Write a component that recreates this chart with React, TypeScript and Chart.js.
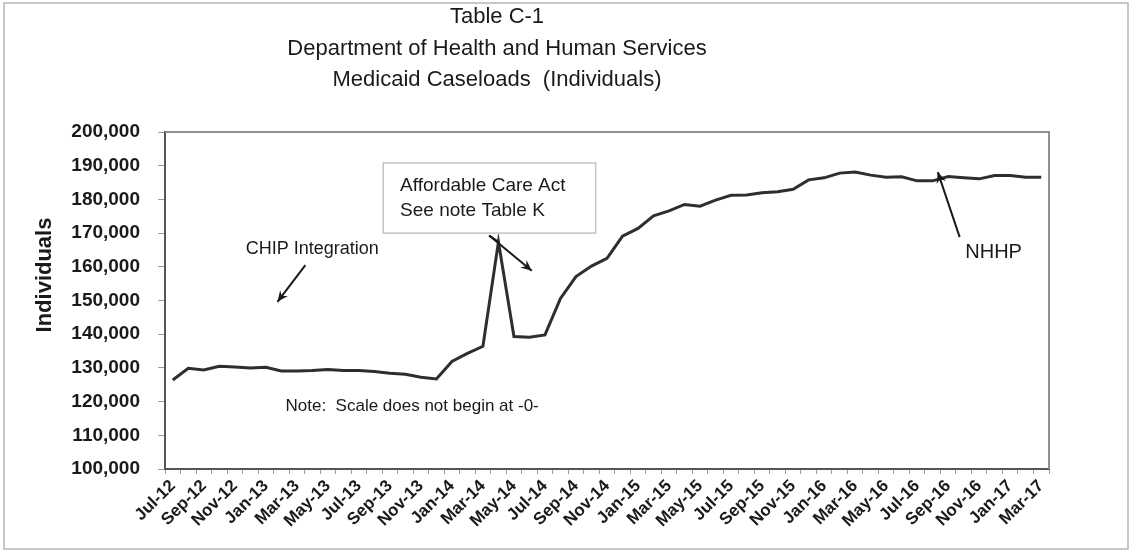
import React, { useEffect, useRef } from "react";
import { Chart, registerables } from "chart.js";

Chart.register(...registerables);

// ---------- data ----------
const months = [
  "Jul-12", "Aug-12", "Sep-12", "Oct-12", "Nov-12", "Dec-12",
  "Jan-13", "Feb-13", "Mar-13", "Apr-13", "May-13", "Jun-13",
  "Jul-13", "Aug-13", "Sep-13", "Oct-13", "Nov-13", "Dec-13",
  "Jan-14", "Feb-14", "Mar-14", "Apr-14", "May-14", "Jun-14",
  "Jul-14", "Aug-14", "Sep-14", "Oct-14", "Nov-14", "Dec-14",
  "Jan-15", "Feb-15", "Mar-15", "Apr-15", "May-15", "Jun-15",
  "Jul-15", "Aug-15", "Sep-15", "Oct-15", "Nov-15", "Dec-15",
  "Jan-16", "Feb-16", "Mar-16", "Apr-16", "May-16", "Jun-16",
  "Jul-16", "Aug-16", "Sep-16", "Oct-16", "Nov-16", "Dec-16",
  "Jan-17", "Feb-17", "Mar-17",
];

const caseloads = [
  126400, 129900, 129400, 130500, 130300, 130000,
  130200, 129100, 129100, 129200, 129500, 129200,
  129200, 128900, 128400, 128100, 127200, 126700,
  131900, 134300, 136400, 167400, 139300, 139100,
  139800, 150600, 157100, 160200, 162500, 169100,
  171400, 175100, 176600, 178500, 178000, 179800,
  181200, 181300, 182000, 182300, 183000, 185800,
  186400, 187800, 188100, 187200, 186600, 186700,
  185500, 185500, 186800, 186400, 186100, 187100,
  187100, 186600, 186600,
];

const yMin = 100000;
const yMax = 200000;
const yStep = 10000;

const titleLines = [
  "Table C-1",
  "Department of Health and Human Services",
  "Medicaid Caseloads  (Individuals)",
];
const yAxisTitle = "Individuals";

// annotation texts anchored in data space (category index, value)
const chipText = "CHIP Integration";
const acaLines = ["Affordable Care Act", "See note Table K"];
const nhhpText = "NHHP";
const noteText = "Note:  Scale does not begin at -0-";

const FONT = "'Liberation Sans', Arial, Helvetica, sans-serif";

function arrow(ctx: CanvasRenderingContext2D, x1: number, y1: number, x2: number, y2: number) {
  const ang = Math.atan2(y2 - y1, x2 - x1);
  ctx.beginPath();
  ctx.moveTo(x1, y1);
  ctx.lineTo(x2, y2);
  ctx.stroke();
  const L = 12;
  const w = 0.42;
  ctx.beginPath();
  ctx.moveTo(x2, y2);
  ctx.lineTo(x2 - L * Math.cos(ang - w), y2 - L * Math.sin(ang - w));
  ctx.lineTo(x2 - L * 0.6 * Math.cos(ang), y2 - L * 0.6 * Math.sin(ang));
  ctx.lineTo(x2 - L * Math.cos(ang + w), y2 - L * Math.sin(ang + w));
  ctx.closePath();
  ctx.fill();
}

const decorPlugin = {
  id: "decor",
  beforeDraw(chart: any) {
    const ctx = chart.ctx as CanvasRenderingContext2D;
    ctx.save();
    ctx.fillStyle = "#ffffff";
    ctx.fillRect(0, 0, chart.width, chart.height);
    ctx.strokeStyle = "#b5b5b5";
    ctx.lineWidth = 1.5;
    ctx.strokeRect(4, 3, chart.width - 8, chart.height - 6);
    // titles
    ctx.fillStyle = "#1a1a1a";
    ctx.font = `22px ${FONT}`;
    ctx.textAlign = "center";
    ctx.textBaseline = "middle";
    titleLines.forEach((t, i) => ctx.fillText(t, 497, 17 + i * 31.5));
    // y axis title
    ctx.save();
    ctx.translate(45, 275);
    ctx.rotate(-Math.PI / 2);
    ctx.font = `bold 22px ${FONT}`;
    ctx.fillText(yAxisTitle, 0, 0);
    ctx.restore();
    ctx.restore();
  },
  beforeDatasetsDraw(chart: any) {
    const ctx = chart.ctx as CanvasRenderingContext2D;
    const a = chart.chartArea;
    ctx.save();
    ctx.strokeStyle = "#8f8f8f";
    ctx.lineWidth = 2;
    ctx.beginPath();
    ctx.moveTo(a.left, a.top);
    ctx.lineTo(a.right, a.top);
    ctx.lineTo(a.right, a.bottom);
    ctx.stroke();
    ctx.restore();
  },
  afterDatasetsDraw(chart: any) {
    const ctx = chart.ctx as CanvasRenderingContext2D;
    const xs = chart.scales.x;
    const ys = chart.scales.y;
    const px = (i: number) => xs.getPixelForValue(0) + i * (xs.getPixelForValue(1) - xs.getPixelForValue(0));
    const py = (v: number) => ys.getPixelForValue(v);
    ctx.save();
    ctx.fillStyle = "#1a1a1a";
    ctx.strokeStyle = "#1a1a1a";
    ctx.textBaseline = "middle";

    // CHIP Integration
    ctx.font = `18px ${FONT}`;
    ctx.textAlign = "center";
    ctx.fillText(chipText, px(9.0), py(165300));
    ctx.lineWidth = 2;
    arrow(ctx, px(8.55), py(160500), px(6.75), py(149600));

    // ACA box
    const bx1 = px(13.57), bx2 = px(27.27), by1 = py(190800), by2 = py(170000);
    ctx.fillStyle = "#ffffff";
    ctx.fillRect(bx1, by1, bx2 - bx1, by2 - by1);
    ctx.strokeStyle = "#c4c4c4";
    ctx.lineWidth = 1.5;
    ctx.strokeRect(bx1, by1, bx2 - bx1, by2 - by1);
    ctx.fillStyle = "#1a1a1a";
    ctx.strokeStyle = "#1a1a1a";
    ctx.font = `19px ${FONT}`;
    ctx.textAlign = "left";
    ctx.fillText(acaLines[0], px(14.66), py(184000));
    ctx.fillText(acaLines[1], px(14.66), py(176600));
    ctx.lineWidth = 2;
    ctx.beginPath();
    ctx.moveTo(px(20.4), py(169300));
    ctx.lineTo(px(21), py(167400));
    ctx.stroke();
    arrow(ctx, px(20.4), py(169300), px(23.15), py(158800));

    // NHHP
    ctx.font = `20px ${FONT}`;
    ctx.textAlign = "left";
    ctx.fillText(nhhpText, px(51.1), py(164100));
    arrow(ctx, px(50.74), py(168800), px(49.33), py(188100));

    // Note
    ctx.font = `17px ${FONT}`;
    ctx.fillText(noteText, px(7.27), py(118700));
    ctx.restore();
  },
};

export default function App() {
  const ref = useRef<HTMLCanvasElement | null>(null);
  useEffect(() => {
    if (!ref.current) return;
    const chart = new Chart(ref.current, {
      type: "line",
      data: {
        labels: months,
        datasets: [
          {
            data: caseloads,
            borderColor: "#2e2e2e",
            borderWidth: 3,
            pointRadius: 0,
            tension: 0,
            fill: false,
          },
        ],
      },
      options: {
        responsive: false,
        animation: false,
        layout: { padding: { left: 0, top: 132, right: 83, bottom: 0 } },
        plugins: {
          legend: { display: false },
          title: { display: false },
          tooltip: { enabled: false },
        },
        scales: {
          x: {
            type: "category",
            offset: true,
            afterFit: (s: any) => { s.height = 83; },
            grid: {
              display: true,
              drawOnChartArea: false,
              drawTicks: true,
              tickLength: 5,
              color: "#9a9a9a",
              offset: true,
            },
            border: { display: true, color: "#555555", width: 2 },
            ticks: {
              autoSkip: false,
              maxRotation: 45,
              minRotation: 45,
              padding: 2,
              color: "#1a1a1a",
              font: { family: FONT, size: 17, weight: "bold" },
              callback: (_v: any, i: number) => (i % 2 === 0 ? months[i] : ""),
            },
          },
          y: {
            min: yMin,
            max: yMax,
            afterFit: (s: any) => { s.width = 165; },
            grid: {
              display: true,
              drawOnChartArea: false,
              drawTicks: true,
              tickLength: 7,
              color: "#9a9a9a",
            },
            border: { display: true, color: "#555555", width: 2 },
            ticks: {
              stepSize: yStep,
              padding: 18,
              color: "#1a1a1a",
              font: { family: FONT, size: 19, weight: "bold" },
              callback: (v: any) => Number(v).toLocaleString("en-US"),
            },
          },
        },
      },
      plugins: [decorPlugin],
    });
    return () => chart.destroy();
  }, []);
  return (
    <div style={{ position: "absolute", left: 0, top: 0, width: 1132, height: 552, background: "#fff" }}>
      <canvas ref={ref} width={1132} height={552} />
    </div>
  );
}
